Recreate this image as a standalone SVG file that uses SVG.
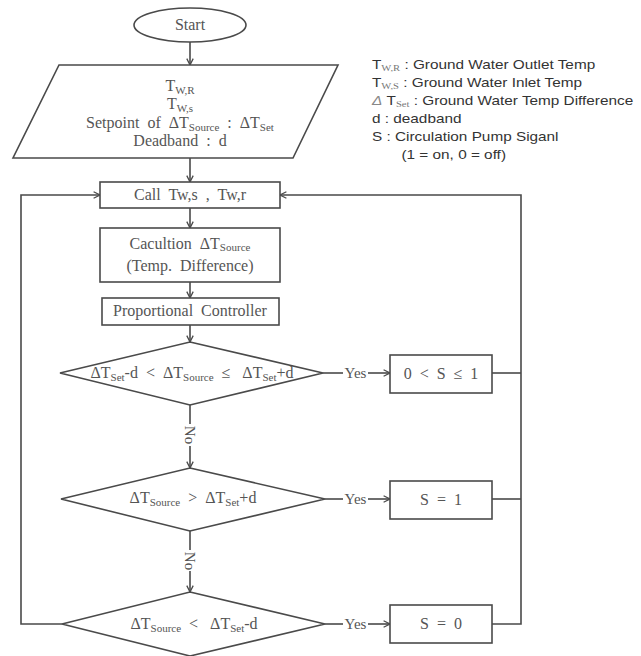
<svg xmlns="http://www.w3.org/2000/svg" width="641" height="656" viewBox="0 0 641 656">
  <style>
    .shape { fill: #fff; stroke: #4a4a4a; stroke-width: 1.6; }
    .line { fill: none; stroke: #4a4a4a; stroke-width: 1.6; }
    .t { font-family: "Liberation Serif", "DejaVu Serif", serif; font-size: 16px; fill: #555; text-anchor: middle; white-space: pre; }
    .sub { font-size: 11px; }
    .lg { font-family: "Liberation Sans", Arial, sans-serif; font-size: 13px; fill: #333; white-space: pre; }
    .lgs { font-family: "Liberation Serif", serif; font-size: 9px; fill: #777; }
    .dl { font-style: italic; fill: #888; }
  </style>
  <defs>
    <marker id="arr" viewBox="0 0 10 10" refX="9" refY="5" markerWidth="8" markerHeight="8" markerUnits="userSpaceOnUse" orient="auto">
      <path d="M1,1 L9,5 L1,9" fill="none" stroke="#4a4a4a" stroke-width="1.6"/>
    </marker>
  </defs>

  <!-- connectors -->
  <g id="connectors" class="line">
    <line x1="190" y1="42" x2="190" y2="65" marker-end="url(#arr)"/>
    <line x1="190" y1="158" x2="190" y2="182" marker-end="url(#arr)"/>
    <line x1="190" y1="208" x2="190" y2="228" marker-end="url(#arr)"/>
    <line x1="190" y1="282" x2="190" y2="298" marker-end="url(#arr)"/>
    <line x1="190" y1="325" x2="190" y2="342" marker-end="url(#arr)"/>
    <!-- No branches -->
    <line x1="190" y1="405" x2="190" y2="424"/>
    <line x1="190" y1="446" x2="190" y2="468" marker-end="url(#arr)"/>
    <line x1="190" y1="531" x2="190" y2="550"/>
    <line x1="190" y1="571" x2="190" y2="592" marker-end="url(#arr)"/>
    <!-- Yes branches -->
    <line x1="323" y1="373" x2="343" y2="373"/>
    <line x1="368" y1="373" x2="390" y2="373" marker-end="url(#arr)"/>
    <line x1="325" y1="499" x2="343" y2="499"/>
    <line x1="368" y1="499" x2="390" y2="499" marker-end="url(#arr)"/>
    <line x1="325" y1="624" x2="343" y2="624"/>
    <line x1="368" y1="624" x2="390" y2="624" marker-end="url(#arr)"/>
    <!-- results back to reading step -->
    <line x1="492" y1="373" x2="521" y2="373"/>
    <line x1="492" y1="499" x2="521" y2="499"/>
    <polyline points="492,624 521,624 521,195 280,195" marker-end="url(#arr)"/>
    <!-- last No loops back -->
    <polyline points="62,624 21,624 21,195 100,195" marker-end="url(#arr)"/>
  </g>
  <g id="conn-labels" class="t" style="font-size:15px">
    <text x="355.5" y="378">Yes</text>
    <text x="355.5" y="504">Yes</text>
    <text x="355.5" y="629">Yes</text>
    <text transform="translate(185 435) rotate(90)">No</text>
    <text transform="translate(185 561) rotate(90)">No</text>
  </g>

  <g id="start">
    <ellipse class="shape" cx="190" cy="25" rx="56" ry="17"/>
    <text class="t" x="190" y="30">Start</text>
  </g>

  <g id="input">
    <polygon class="shape" points="59,65 338,65 293,158 13,158"/>
    <text class="t" x="180" y="91">T<tspan class="sub" dy="3">W,R</tspan></text>
    <text class="t" x="180" y="109">T<tspan class="sub" dy="3">W,s</tspan></text>
    <text class="t" x="180" y="128">Setpoint  of  ΔT<tspan class="sub" dy="3">Source</tspan><tspan dy="-3">  :  ΔT</tspan><tspan class="sub" dy="3">Set</tspan></text>
    <text class="t" x="180" y="146">Deadband  :  d</text>
  </g>

  <g id="call">
    <rect class="shape" x="100" y="182" width="180" height="26"/>
    <text class="t" x="190" y="200">Call  Tw,s  ,  Tw,r</text>
  </g>

  <g id="calc">
    <rect class="shape" x="100" y="228" width="180" height="54"/>
    <text class="t" x="190" y="249">Cacultion  ΔT<tspan class="sub" dy="2">Source</tspan></text>
    <text class="t" x="190" y="271">(Temp.  Difference)</text>
  </g>

  <g id="controller">
    <rect class="shape" x="102" y="298" width="177" height="27"/>
    <text class="t" x="190" y="316">Proportional  Controller</text>
  </g>

  <g id="cond1">
    <polygon class="shape" points="190,342 323,373 190,405 60,373"/>
    <text class="t" x="192" y="378">ΔT<tspan class="sub" dy="3">Set</tspan><tspan dy="-3">-d  &lt;  ΔT</tspan><tspan class="sub" dy="3">Source</tspan><tspan dy="-3">  ≤   ΔT</tspan><tspan class="sub" dy="3">Set</tspan><tspan dy="-3">+d</tspan></text>
  </g>

  <g id="cond2">
    <polygon class="shape" points="190,468 325,499 190,531 61,499"/>
    <text class="t" x="193" y="503">ΔT<tspan class="sub" dy="3">Source</tspan><tspan dy="-3">  &gt;  ΔT</tspan><tspan class="sub" dy="3">Set</tspan><tspan dy="-3">+d</tspan></text>
  </g>

  <g id="cond3">
    <polygon class="shape" points="190,592 325,624 190,656 62,624"/>
    <text class="t" x="194" y="629">ΔT<tspan class="sub" dy="3">Source</tspan><tspan dy="-3">  &lt;   ΔT</tspan><tspan class="sub" dy="3">Set</tspan><tspan dy="-3">-d</tspan></text>
  </g>

  <g id="out1">
    <rect class="shape" x="390" y="355" width="102" height="38"/>
    <text class="t" x="441" y="379">0  &lt;  S  ≤  1</text>
  </g>
  <g id="out2">
    <rect class="shape" x="390" y="481" width="102" height="38"/>
    <text class="t" x="441" y="505">S  =  1</text>
  </g>
  <g id="out3">
    <rect class="shape" x="390" y="605" width="102" height="38"/>
    <text class="t" x="441" y="629">S  =  0</text>
  </g>

  <!-- symbol legend -->
  <g id="legend" transform="translate(372 0) scale(1.18 1)">
    <text class="lg" x="0" y="69">T<tspan class="lgs" dy="2">W,R</tspan><tspan dy="-2"> : Ground Water Outlet Temp</tspan></text>
    <text class="lg" x="0" y="87">T<tspan class="lgs" dy="2">W,S</tspan><tspan dy="-2"> : Ground Water Inlet Temp</tspan></text>
    <text class="lg" x="0" y="105"><tspan class="dl">Δ</tspan> T<tspan class="lgs" dy="2">Set</tspan><tspan dy="-2"> : Ground Water Temp Difference</tspan></text>
    <text class="lg" x="0" y="123">d : deadband</text>
    <text class="lg" x="0" y="141">S : Circulation Pump Siganl</text>
    <text class="lg" x="25" y="159">(1 = on, 0 = off)</text>
  </g>
</svg>
